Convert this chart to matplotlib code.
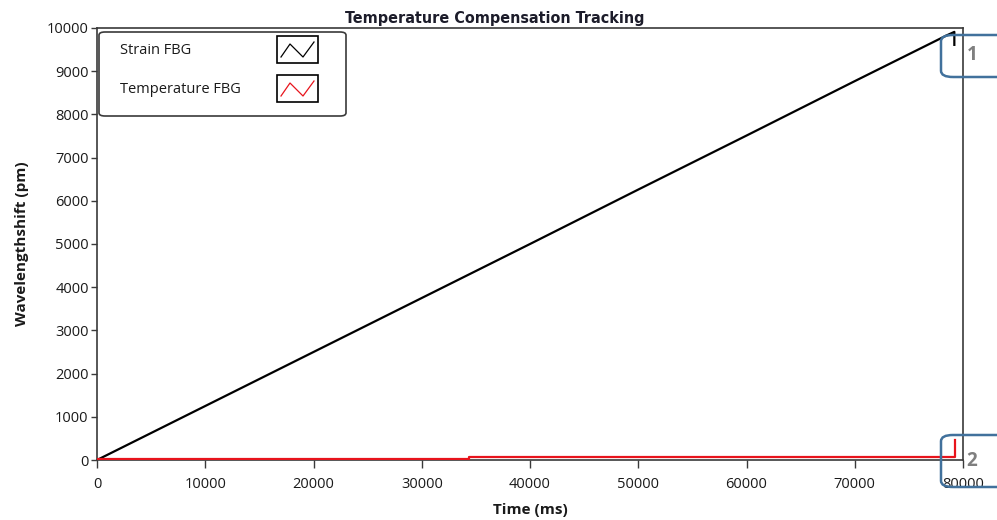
import matplotlib
matplotlib.use("Agg")
import matplotlib.pyplot as plt
from matplotlib.patches import FancyBboxPatch, Rectangle

# values
time_ms = [0, 10000, 20000, 30000, 40000, 50000, 60000, 70000, 78500, 79200, 79200]
strain_pm = [0, 1250, 2500, 3750, 5000, 6260, 7510, 8770, 9830, 9910, 9610]

temp_time_ms = [0, 34400, 34400, 79300, 79300]
temp_pm = [12, 12, 58, 58, 460]

x_ticks = [0, 10000, 20000, 30000, 40000, 50000, 60000, 70000, 80000]
y_ticks = [0, 1000, 2000, 3000, 4000, 5000, 6000, 7000, 8000, 9000, 10000]

W, H = 997, 520
INK = "#1a1a1a"
AX = "#3a3a3a"
BLUE = "#41719c"

plt.rcParams["font.family"] = ["Open Sans", "DejaVu Sans"]

fig = plt.figure(figsize=(W / 100, H / 100), dpi=100, facecolor="white")


def px(x, y):
    return x / W, 1 - y / H


L, R, T, B = 97, 963, 28, 460
ax = fig.add_axes([L / W, 1 - B / H, (R - L) / W, (B - T) / H])
ax.plot(time_ms, strain_pm, color="black", linewidth=1.6, zorder=3)
ax.plot(temp_time_ms, temp_pm, color="#e8141c", linewidth=1.6, zorder=4)
ax.set_xlim(0, 80000)
ax.set_ylim(0, 10000)
ax.set_xticks(x_ticks)
ax.set_yticks(y_ticks)
ax.tick_params(direction="out", length=4, width=1, color=AX,
               labelsize=10.5, labelcolor=INK, pad=2)
ax.tick_params(axis="x", length=6, pad=6)
for s in ax.spines.values():
    s.set_color(AX)
    s.set_linewidth(1.2)
ax.set_xlabel("Time (ms)", fontsize=11, fontweight="bold", color=INK, labelpad=8)
ax.set_ylabel("Wavelengthshift (pm)", fontsize=11, fontweight="bold",
              color=INK, labelpad=13)

fig.text(*px(495, 18), "Temperature Compensation Tracking", ha="center",
         va="center", fontsize=11.5, fontweight="bold", color="#1c1c2a",
         family=["DejaVu Sans"], fontstretch="condensed")

# legend drawn by hand (LabVIEW style)
fig.patches.append(FancyBboxPatch(px(99, 116), 247 / W, 84 / H,
                                  boxstyle="round,pad=0,rounding_size=0.006",
                                  transform=fig.transFigure, facecolor="white",
                                  edgecolor=AX, linewidth=1.2, zorder=5))
entries = [("Strain FBG", "black", 50), ("Temperature FBG", "#e8141c", 89)]
for label, color, yc in entries:
    fig.text(*px(120, yc), label, ha="left", va="center", fontsize=10.5,
             color=INK, zorder=6)
    fig.patches.append(Rectangle(px(277, yc + 13), 41 / W, 27 / H,
                                 transform=fig.transFigure, facecolor="white",
                                 edgecolor="black", linewidth=1.2, zorder=6))
    xs = [281, 290, 303, 314]
    ys = [yc + 7, yc - 6, yc + 7, yc - 8]
    fig.lines.append(plt.Line2D([x / W for x in xs], [1 - y / H for y in ys],
                                transform=fig.transFigure, color=color,
                                linewidth=0.9, zorder=7))

# blue callout boxes on the right edge
for (y0, y1, lab, ty) in [(35, 77, "1", 55), (435, 487, "2", 461)]:
    fig.patches.append(FancyBboxPatch(px(941, y1), 70 / W, (y1 - y0) / H,
                                      boxstyle="round,pad=0,rounding_size=0.012",
                                      transform=fig.transFigure,
                                      facecolor="none", edgecolor=BLUE,
                                      linewidth=1.8, zorder=8))
    fig.text(*px(972, ty), lab, ha="center", va="center", fontsize=13.5,
             fontweight="bold", color="#7f7f7f", zorder=9)

fig.savefig("out.png", dpi=100, facecolor="white")
